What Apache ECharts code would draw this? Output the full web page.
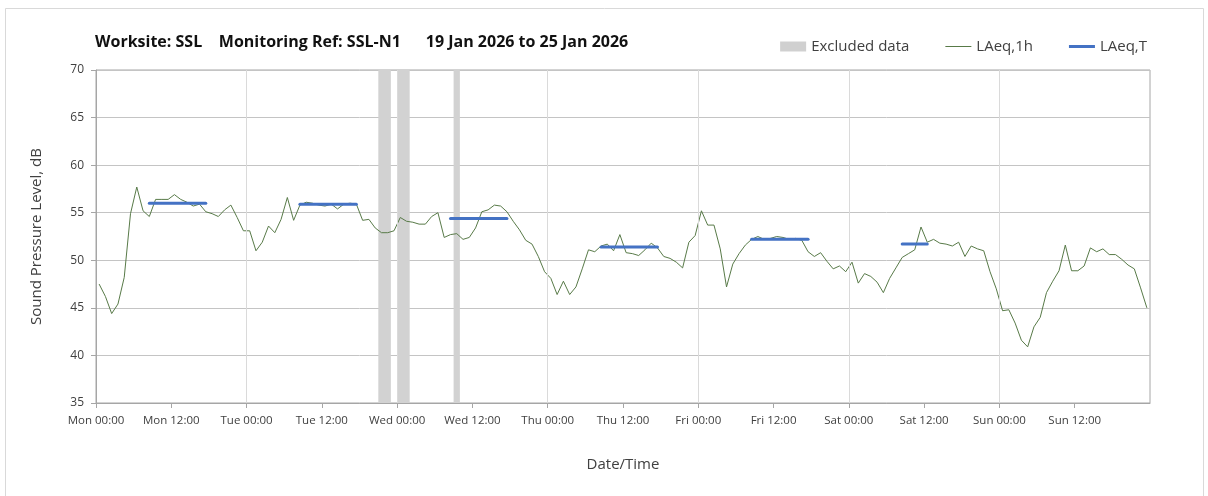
<!DOCTYPE html>
<html>
<head>
<meta charset="utf-8">
<script src="https://cdn.jsdelivr.net/npm/echarts@6/dist/echarts.min.js"></script>
<style>
  html, body { margin: 0; padding: 0; background: #fff; }
  #chart { width: 1208px; height: 496px; }
</style>
</head>
<body>
<div id="chart"></div>
<script>
// hourly LAeq,1h values, one array per day (00:00 .. 23:00)
var monHourly = [47.5, 46.2, 44.4, 45.4, 48.2, 54.9, 57.7, 55.2, 54.6, 56.4, 56.4, 56.4, 56.9, 56.4, 56.1, 55.7, 55.9, 55.1, 54.9, 54.6, 55.3, 55.8, 54.5, 53.1];
var tueHourly = [53.1, 51.0, 51.9, 53.6, 52.9, 54.3, 56.6, 54.2, 55.8, 56.1, 56.0, 55.8, 55.7, 55.9, 55.4, 55.9, 56.0, 55.9, 54.2, 54.3, 53.4, 52.9, 52.9, 53.1];
var wedHourly = [54.5, 54.1, 54.0, 53.8, 53.8, 54.6, 55.0, 52.4, 52.7, 52.8, 52.2, 52.4, 53.4, 55.1, 55.3, 55.8, 55.7, 55.1, 54.1, 53.2, 52.1, 51.7, 50.4, 48.8];
var thuHourly = [48.1, 46.4, 47.8, 46.4, 47.2, 49.1, 51.1, 50.9, 51.5, 51.7, 51.0, 52.7, 50.8, 50.7, 50.5, 51.1, 51.8, 51.3, 50.4, 50.2, 49.8, 49.2, 51.9, 52.6];
var friHourly = [55.2, 53.7, 53.7, 51.2, 47.2, 49.6, 50.7, 51.6, 52.2, 52.5, 52.2, 52.3, 52.5, 52.4, 52.2, 52.3, 52.1, 50.9, 50.4, 50.8, 49.9, 49.1, 49.4, 48.8];
var satHourly = [49.8, 47.6, 48.6, 48.3, 47.7, 46.6, 48.1, 49.2, 50.3, 50.7, 51.1, 53.5, 51.9, 52.2, 51.8, 51.7, 51.5, 51.9, 50.4, 51.5, 51.2, 51.0, 48.8, 47.0];
var sunHourly = [44.7, 44.8, 43.4, 41.6, 40.9, 43.0, 44.0, 46.6, 47.8, 48.9, 51.6, 48.9, 48.9, 49.4, 51.3, 50.9, 51.2, 50.6, 50.6, 50.1, 49.5, 49.1, 47.1, 45.0];

// LAeq,T periods (hours from Mon 00:00)
var periodStart = [8.5, 32.5, 56.5, 80.5, 104.5, 128.5];
var periodEnd   = [17.5, 41.5, 65.5, 89.5, 113.5, 132.5];
var periodLAeq  = [56.0, 55.9, 54.4, 51.4, 52.2, 51.7];

// excluded data (hours from Mon 00:00)
var excludedFrom = [45, 48, 57];
var excludedTo   = [47, 50, 58];

var dayNames = ['Mon', 'Tue', 'Wed', 'Thu', 'Fri', 'Sat', 'Sun'];
var dayBounds = [24, 48, 72, 96, 120, 144];

var hourly = [].concat(monHourly, tueHourly, wedHourly, thuHourly, friHourly, satHourly, sunHourly);
var lineData = hourly.map(function (v, i) { return [i + 0.5, v]; });

var chart = echarts.init(document.getElementById('chart'));

var txt = '#404040';
var font = 'Open Sans';

var series = [
  {
    name: 'Excluded data',
    type: 'line',
    data: [],
    z: 1,
    itemStyle: { color: '#d0d0d0' },
    markArea: {
      silent: true,
      itemStyle: { color: '#d2d2d2' },
      data: excludedFrom.map(function (f, i) {
        return [{ xAxis: f }, { xAxis: excludedTo[i] }];
      })
    },
    markLine: {
      silent: true,
      symbol: 'none',
      label: { show: false },
      lineStyle: { color: '#dadada', width: 1, type: 'solid' },
      data: dayBounds.map(function (d) { return { xAxis: d }; })
    }
  },
  {
    name: 'LAeq,1h',
    type: 'line',
    z: 3,
    symbol: 'none',
    data: lineData,
    lineStyle: { color: '#587a48', width: 1 },
    itemStyle: { color: '#587a48' }
  }
];

periodLAeq.forEach(function (v, i) {
  series.push({
    name: 'LAeq,T',
    type: 'line',
    z: 4,
    symbol: 'none',
    data: [[periodStart[i], v], [periodEnd[i], v]],
    lineStyle: { color: '#4472c4', width: 3, cap: 'round' },
    itemStyle: { color: '#4472c4' }
  });
});

var option = {
  animation: false,
  backgroundColor: '#fff',
  title: {
    text: 'Worksite: SSL    Monitoring Ref: SSL-N1      19 Jan 2026 to 25 Jan 2026',
    left: 90,
    top: 29,
    textStyle: { fontFamily: font, fontWeight: 'bold', fontSize: 16, color: '#111' }
  },
  legend: {
    right: 56,
    top: 34,
    itemWidth: 26,
    itemHeight: 10,
    itemGap: 36,
    textStyle: { fontFamily: font, fontSize: 15, color: txt },
    data: [
      { name: 'Excluded data', icon: 'rect', itemStyle: { color: '#d0d0d0' } },
      { name: 'LAeq,1h', icon: 'path://M0,0 L26,0 L26,1 L0,1 Z', itemStyle: { color: '#587a48' } },
      { name: 'LAeq,T', icon: 'path://M0,0 L26,0 L26,3 L0,3 Z', itemStyle: { color: '#4472c4' } }
    ]
  },
  graphic: [{
    type: 'rect',
    silent: true,
    shape: { x: 5.5, y: 8.5, width: 1198, height: 500 },
    style: { fill: 'none', stroke: '#d9d9d9', lineWidth: 1 }
  }],
  grid: {
    left: 96, right: 58, top: 70, bottom: 93,
    show: true, borderColor: '#a6a6a6', borderWidth: 1
  },
  xAxis: {
    type: 'value',
    min: 0,
    max: 168,
    interval: 12,
    name: 'Date/Time',
    nameLocation: 'middle',
    nameGap: 54,
    nameTextStyle: { fontFamily: font, fontSize: 15, color: txt },
    axisLine: { lineStyle: { color: '#a6a6a6' } },
    axisTick: { show: true, length: 5, lineStyle: { color: '#a6a6a6' } },
    splitLine: { show: false },
    axisLabel: {
      fontFamily: font, fontSize: 11.5, color: txt, margin: 12,
      showMaxLabel: false,
      formatter: function (v) {
        var d = Math.floor(v / 24);
        if (d > 6) return '';
        return dayNames[d] + ' ' + (v % 24 === 0 ? '00:00' : '12:00');
      }
    }
  },
  yAxis: {
    type: 'value',
    min: 35,
    max: 70,
    interval: 5,
    name: 'Sound Pressure Level, dB',
    nameLocation: 'middle',
    nameGap: 52,
    nameTextStyle: { fontFamily: font, fontSize: 15, color: txt },
    axisLine: { show: true, lineStyle: { color: '#a6a6a6' } },
    axisTick: { show: true, length: 5, lineStyle: { color: '#a6a6a6' } },
    splitLine: { lineStyle: { color: '#c4c4c4' } },
    axisLabel: { fontFamily: font, fontSize: 12, color: txt, margin: 12 }
  },
  series: series
};

chart.setOption(option);
</script>
</body>
</html>
